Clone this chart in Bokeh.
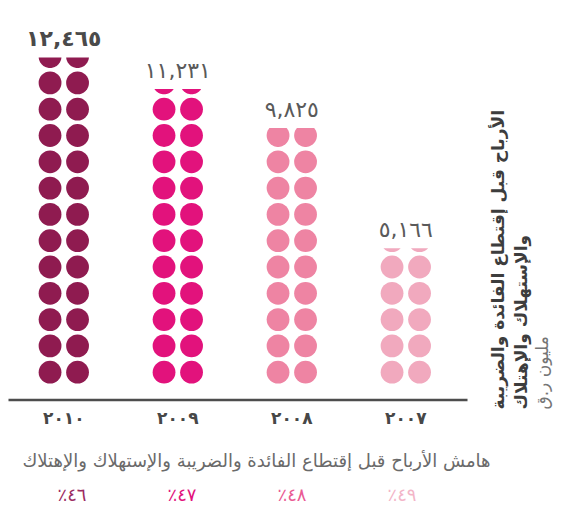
import numpy as np
from bokeh.plotting import figure
from bokeh.models import Range1d, ColumnDataSource
from bokeh.core.properties import value
from bokeh.embed import file_html
from bokeh.resources import INLINE

# ---------------- data ----------------
years = ["٢٠١٠", "٢٠٠٩", "٢٠٠٨", "٢٠٠٧"]
ebitda = [12465, 11231, 9825, 5166]            # million QR
value_labels = ["١٢,٤٦٥", "١١,٢٣١", "٩,٨٢٥", "٥,١٦٦"]
margin_labels = ["٪٤٦", "٪٤٧", "٪٤٨", "٪٤٩"]
colors = ["#8f1b50", "#e2127c", "#ee84a3", "#f1a9be"]
margin_colors = ["#9c2c62", "#e2127c", "#ea5a93", "#f3b5c8"]
title_line1 = "الأرباح قبل إقتطاع الفائدة والضريبة"
title_line2 = "والإستهلاك والإهتلاك"
unit_label = "مليون ر.ق"
margin_title = "هامش الأرباح قبل إقتطاع الفائدة والضريبة والإستهلاك والإهتلاك"
ROW = 1000  # value represented by one row of dots

FONT = value("DejaVu Sans")

W, H = 568, 511
PX_X = 114.0   # pixels per column unit
PX_Y = 26.3    # pixels per row unit
x0 = -63.3 / PX_X
y_zero_px = 384.85  # pixel (from top) of value 0
p = figure(width=W, height=H, output_backend="svg", toolbar_location=None,
           x_range=Range1d(x0, x0 + W / PX_X),
           y_range=Range1d(-(H - y_zero_px) / PX_Y, y_zero_px / PX_Y),
           x_axis_location=None, y_axis_location=None, title=None,
           min_border=0, outline_line_color=None,
           background_fill_color="white", border_fill_color="white")
p.grid.visible = False

def px_x(px):
    return x0 + px / PX_X

dx = 13.75 / PX_X
r_px = 11.4
rx, ry = r_px / PX_X, r_px / PX_Y

xs_full, ys_full, cols_full = [], [], []
patch_xs, patch_ys, patch_cols = [], [], []
clip_tops = []
for c, (v, col) in enumerate(zip(ebitda, colors)):
    rows = v / ROW
    k = int(rows)
    f = rows - k
    for i in range(k):
        for off in (-dx, dx):
            xs_full.append(c + off)
            ys_full.append(i + 0.5)
            cols_full.append(col)
    cy = k + 0.5
    yb = cy - ry
    yc = yb + f * 2 * ry
    clip_tops.append(yc)
    s = np.clip((yc - cy) / ry, -1, 1)
    ta = np.arcsin(s)
    t = np.linspace(np.pi - ta, 2 * np.pi + ta, 40)
    for off in (-dx, dx):
        patch_xs.append(list(c + off + rx * np.cos(t)))
        patch_ys.append(list(cy + ry * np.sin(t)))
        patch_cols.append(col)

p.scatter(x=xs_full, y=ys_full, size=2 * r_px, color=cols_full, line_color=None)
p.patches(xs=patch_xs, ys=patch_ys, fill_color=patch_cols, line_color=None)

xpos = list(range(len(years)))

# value labels
src_v = ColumnDataSource(dict(x=xpos, y=clip_tops, t=value_labels,
                              c=["#4a4a4a", "#5a5a5a", "#5a5a5a", "#5a5a5a"],
                              st=["bold", "normal", "normal", "normal"]))
p.text(x="x", y="y", text="t", source=src_v, text_color="c", text_font_style="st",
       text_font=FONT, text_font_size="22px", text_align="center",
       text_baseline="alphabetic", y_offset=-19)

# baseline
p.segment(x0=[px_x(8)], y0=[-14.6 / PX_Y], x1=[px_x(467)], y1=[-14.6 / PX_Y],
          line_color="#4d4d4d", line_width=2.5)

# year labels
p.text(x=xpos, y=[0] * 4, text=years, text_font=FONT, text_font_size="17px",
       text_font_style="bold", text_color="#474747", text_align="center",
       text_baseline="middle", y_offset=33)

# margin title
p.text(x=[px_x(490)], y=[0], text=[margin_title], text_font=FONT,
       text_font_size="18px", text_color="#6a6a6a", text_align="right",
       text_baseline="middle", y_offset=75)

# margin values
p.text(x=[px_x(71.5 + 110 * i) for i in xpos], y=[0] * 4, text=margin_labels,
       text_font=FONT, text_font_size="18px", text_color=margin_colors,
       text_align="center", text_baseline="middle", y_offset=109)

# right vertical title
ybot = (y_zero_px - 409) / PX_Y
p.text(x=[px_x(497), px_x(520)], y=[ybot, ybot],
       text=[title_line1, title_line2], angle=np.pi / 2, text_font=FONT,
       text_font_size="17px", text_font_style="bold", text_color="#3d3d3d",
       text_align="left", text_baseline="middle")
p.text(x=[px_x(541)], y=[ybot], text=[unit_label], angle=np.pi / 2,
       text_font=FONT, text_font_size="17px", text_color="#757575",
       text_align="left", text_baseline="middle")

open("out.html", "w").write(file_html(p, INLINE))
